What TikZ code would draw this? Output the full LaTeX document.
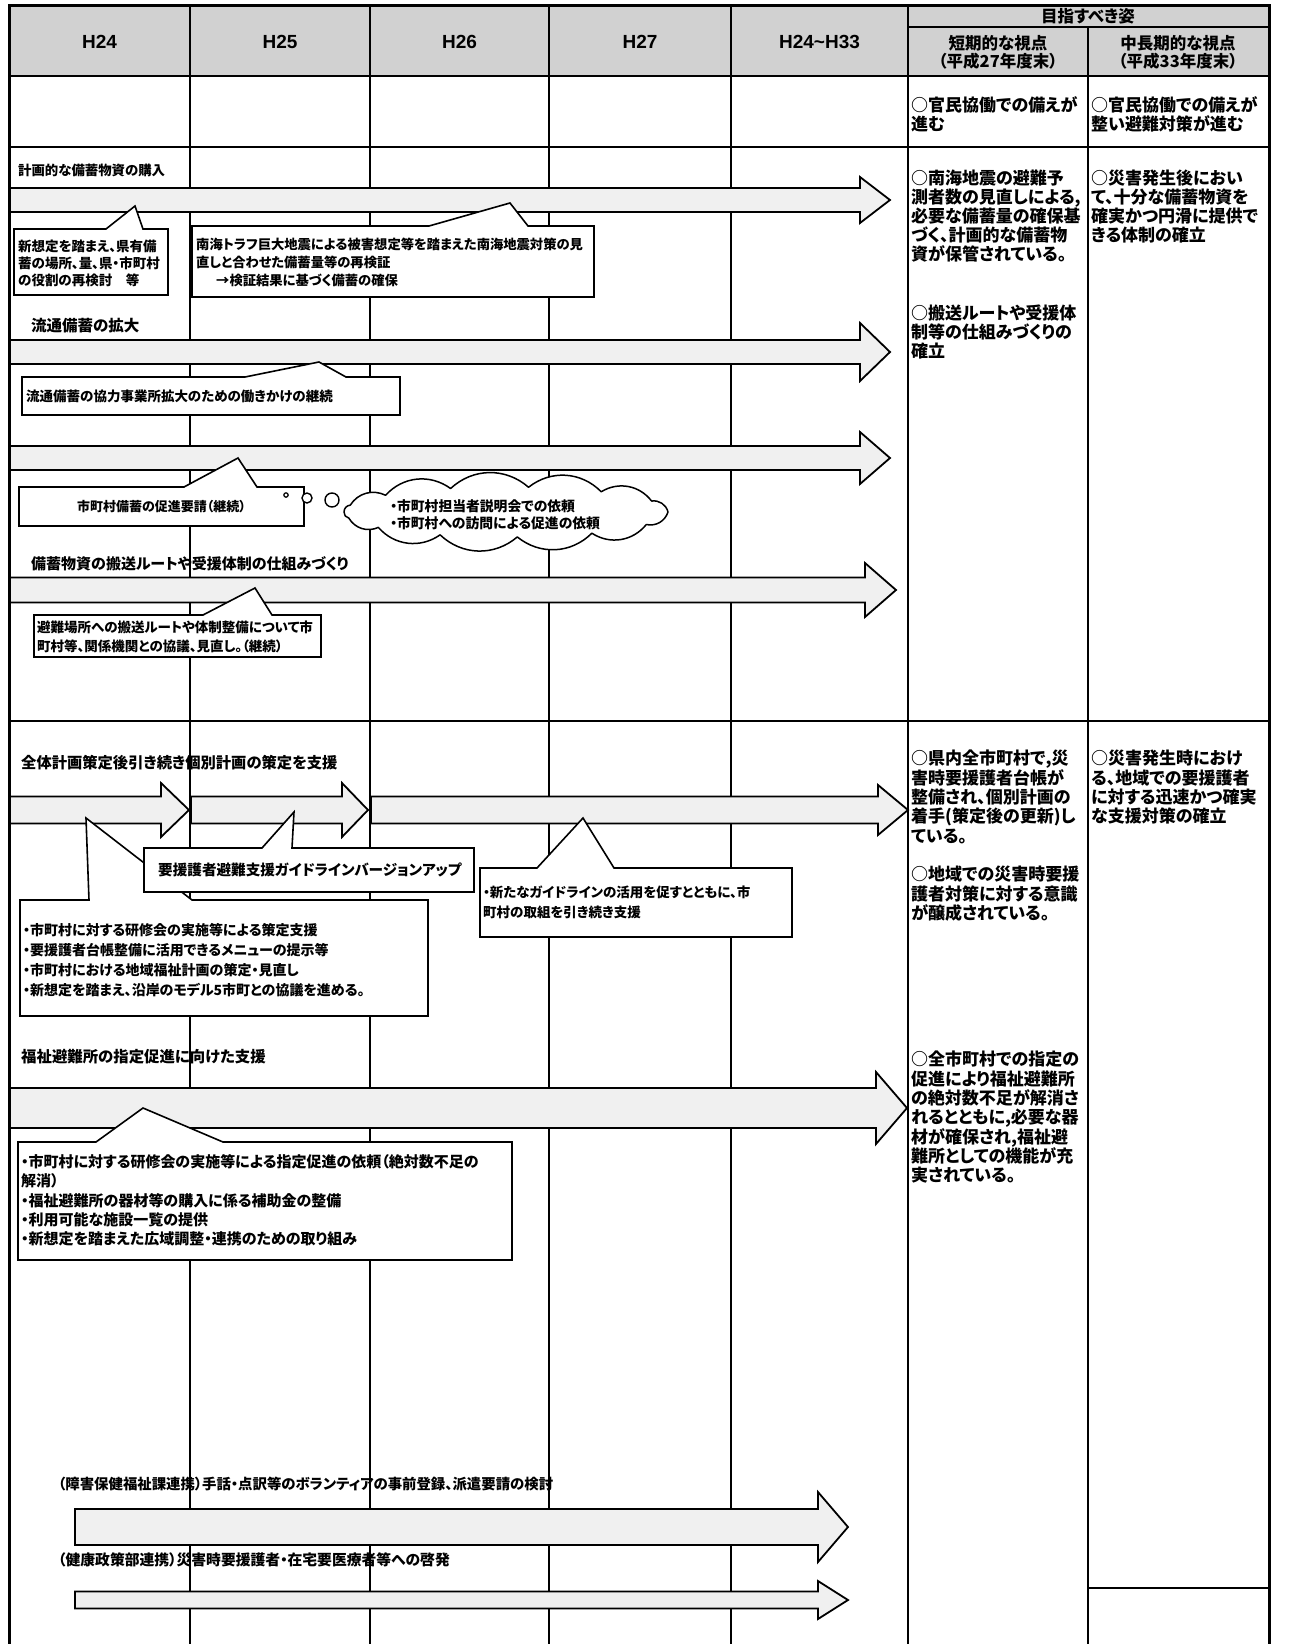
\documentclass[tikz,border=0pt]{standalone}
\usepackage{fontspec}
\setmainfont{Noto Sans CJK JP}[CharacterWidth=AlternateProportional]
\newfontfamily\yearfont{Liberation Sans}

% block arrow: x-start, x of head base, x of tip, y of axis, half body, half head
\newcommand\barrow[6]{%
  \draw[blockarrow] (#1,#4-#5) -- (#2,#4-#5) -- (#2,#4-#6) -- (#3,#4)
    -- (#2,#4+#6) -- (#2,#4+#5) -- (#1,#4+#5) -- cycle;}
% rectangular callout: x0,y0,x1,y1, pointer base left x, tip x, tip y, pointer base right x
\newcommand\callout[8]{%
  \draw[calloutbox] (#1,#2) -- (#5,#2) -- (#6,#7) -- (#8,#2) -- (#3,#2)
    -- (#3,#4) -- (#1,#4) -- cycle;}

\tikzset{
  grid/.style={line width=1.8pt},
  border/.style={line width=3pt},
  blockarrow/.style={draw, line width=1.8pt, fill=gray!12, line join=miter},
  calloutbox/.style={draw, line width=1.6pt, fill=white, line join=miter},
  cloudline/.style={draw, line width=1.5pt, fill=white, line join=round},
  txt/.style={inner sep=0pt, anchor=north west, align=left},
  ctr/.style={inner sep=0pt, align=center},
  f/.style 2 args={font=\bfseries\fontsize{#1}{#2}\selectfont},
  yr/.style={inner sep=0pt, font=\yearfont\bfseries\fontsize{19}{22}\selectfont},
}

\begin{document}
\begin{tikzpicture}[x=1pt,y=-1pt]
\useasboundingbox (0,0) rectangle (1298,1644);

% header band
\fill[gray!36] (9,5) rectangle (1269,76);

% table rules
\foreach \x in {190,370,549,731,908} \draw[grid] (\x,5) -- (\x,1644);
\draw[grid] (1088,27) -- (1088,1644);
\draw[grid] (908,27) -- (1269,27);
\draw[line width=2.4pt] (9,76) -- (1269,76);
\draw[grid] (9,147) -- (1269,147);
\draw[grid] (9,721) -- (1269,721);
\draw[grid] (1088,1588) -- (1269,1588);
\draw[border] (9,1644) -- (9,5) -- (1269,5) -- (1269,1644);

% header texts
\node[yr] (h24) at (99.5,42) {H24};
\node[yr] (h25) at (280,42) {H25};
\node[yr] (h26) at (459.5,42) {H26};
\node[yr] (h27) at (640,42) {H27};
\node[yr] (h2433) at (819.5,42) {H24\textasciitilde H33};
\node[ctr, f={16.5}{18}] (goal) at (1088,16) {目指すべき姿};
\node[ctr, f={16.5}{18}] (short) at (998,52) {短期的な視点\\（平成27年度末）};
\node[ctr, f={16.5}{18}] (long) at (1178,52) {中長期的な視点\\（平成33年度末）};

% first row
\node[txt, f={17}{19}] (r1a) at (911,96.5) {○官民協働での備えが\\進む};
\node[txt, f={17}{19}] (r1b) at (1091,96.5) {○官民協働での備えが\\整い避難対策が進む};

% ---- stockpile section ----
\node[txt, f={13.4}{17}] (l1) at (18,164.3) {計画的な備蓄物資の購入};
\barrow{10}{860}{890}{200}{12}{23}
\node[txt, f={15.5}{18}] (l2) at (31,318) {流通備蓄の拡大};
\barrow{10}{860}{890}{352}{12}{29}
\barrow{10}{860}{890}{458}{12}{26}
\node[txt, f={15}{18}] (l3) at (31,556.5) {備蓄物資の搬送ルートや受援体制の仕組みづくり};
\barrow{10}{865}{896}{590}{12.5}{27}

\callout{14}{229}{168}{295}{106}{135}{206}{143}
\node[txt, f={13.5}{17}] (ta) at (18,239.3) {新想定を踏まえ、県有備\\蓄の場所、量、県・市町村\\の役割の再検討　等};
\callout{192}{226}{594}{297}{429}{510}{203}{528}
\node[txt, f={13.3}{18}] (tb) at (196,237.3) {南海トラフ巨大地震による被害想定等を踏まえた南海地震対策の見\\直しと合わせた備蓄量等の再検証\\\hspace*{20pt}→検証結果に基づく備蓄の確保};
\callout{22}{377}{400}{415}{245}{319}{362}{346}
\node[txt, f={13.5}{17}] (te) at (26,390) {流通備蓄の協力事業所拡大のための働きかけの継続};
\callout{19}{487}{304}{526}{184}{238}{458}{257}
\node[ctr, f={13}{16}] (tc) at (161.5,507) {市町村備蓄の促進要請（継続）};
\draw[line width=1.2pt, fill=white] (286,495) circle (2.2);
\draw[line width=1.4pt, fill=white] (307,498) circle (5);
\draw[line width=1.4pt, fill=white] (332,500) circle (7);

% cloud of puffs round an ellipse
\draw[cloudline] (668,512)
  \foreach \a in {30,58,86,114,142,166,180,196,222,250,278,306,334,360}
    { to[bend left=42] ({506+162*cos(\a)},{512+25*sin(\a)}) };
\node[txt, f={13.8}{17}] (tcl) at (390,499) {・市町村担当者説明会での依頼\\・市町村への訪問による促進の依頼};

\callout{34}{615}{321}{657}{203}{255}{588}{272}
\node[txt, f={13.5}{19}] (td) at (37,621) {避難場所への搬送ルートや体制整備について市\\町村等、関係機関との協議、見直し。（継続）};

% right columns, stockpile section
\node[txt, f={17}{19}] (r2a) at (911,170) {○南海地震の避難予\\測者数の見直しによる,\\必要な備蓄量の確保基\\づく、計画的な備蓄物\\資が保管されている。};
\node[txt, f={17}{19}] (r2b) at (911,305) {○搬送ルートや受援体\\制等の仕組みづくりの\\確立};
\node[txt, f={17}{19}] (r2c) at (1091,170) {○災害発生後におい\\て、十分な備蓄物資を\\確実かつ円滑に提供で\\きる体制の確立};

% ---- support section ----
\node[txt, f={15.3}{18}] (l4) at (21,755.4) {全体計画策定後引き続き個別計画の策定を支援};
\barrow{10}{161}{189}{810}{13.5}{27}
\barrow{191}{342}{368}{810}{13.5}{27}
\barrow{371}{878}{908}{810}{13.5}{25}

\callout{20}{900}{428}{1016}{89}{86}{818}{192}
\node[txt, f={14}{20}] (tg) at (23,923) {・市町村に対する研修会の実施等による策定支援\\・要援護者台帳整備に活用できるメニューの提示等\\・市町村における地域福祉計画の策定・見直し\\・新想定を踏まえ、沿岸のモデル5市町との協議を進める。};
\callout{144}{848}{474}{892}{262}{294}{812}{292}
\node[txt, f={14.6}{18}] (tf) at (158,862.7) {要援護者避難支援ガイドラインバージョンアップ};
\callout{480}{868}{792}{937}{537}{583}{818}{614}
\node[txt, f={13.5}{20}] (th) at (483,886) {・新たなガイドラインの活用を促すとともに、市\\町村の取組を引き続き支援};

\node[txt, f={15.4}{18}] (l5) at (21,1049.3) {福祉避難所の指定促進に向けた支援};
\barrow{10}{876}{907}{1108}{20}{36}
\callout{18}{1142}{512}{1260}{96}{143}{1108}{223}
\node[txt, f={15}{19.3}] (ti) at (21,1154.5) {・市町村に対する研修会の実施等による指定促進の依頼（絶対数不足の\\解消）\\・福祉避難所の器材等の購入に係る補助金の整備\\・利用可能な施設一覧の提供\\・新想定を踏まえた広域調整・連携のための取り組み};

\node[txt, f={14.4}{18}] (l6) at (58,1476.8) {（障害保健福祉課連携）手話・点訳等のボランティアの事前登録、派遣要請の検討};
\barrow{75}{818}{848}{1527}{18}{35}
\node[txt, f={14.8}{18}] (l7) at (58,1552.6) {（健康政策部連携）災害時要援護者・在宅要医療者等への啓発};
\barrow{75}{818}{848}{1600}{8.5}{19}

% right columns, support section
\node[txt, f={17}{19.3}] (r3a) at (911,750) {○県内全市町村で,災\\害時要援護者台帳が\\整備され、個別計画の\\着手(策定後の更新)し\\ている。};
\node[txt, f={17}{19.3}] (r3b) at (911,866) {○地域での災害時要援\\護者対策に対する意識\\が醸成されている。};
\node[txt, f={17}{19.3}] (r3c) at (911,1051) {○全市町村での指定の\\促進により福祉避難所\\の絶対数不足が解消さ\\れるとともに,必要な器\\材が確保され,福祉避\\難所としての機能が充\\実されている。};
\node[txt, f={17}{19.3}] (r3d) at (1091,750) {○災害発生時におけ\\る、地域での要援護者\\に対する迅速かつ確実\\な支援対策の確立};
\end{tikzpicture}
\end{document}
